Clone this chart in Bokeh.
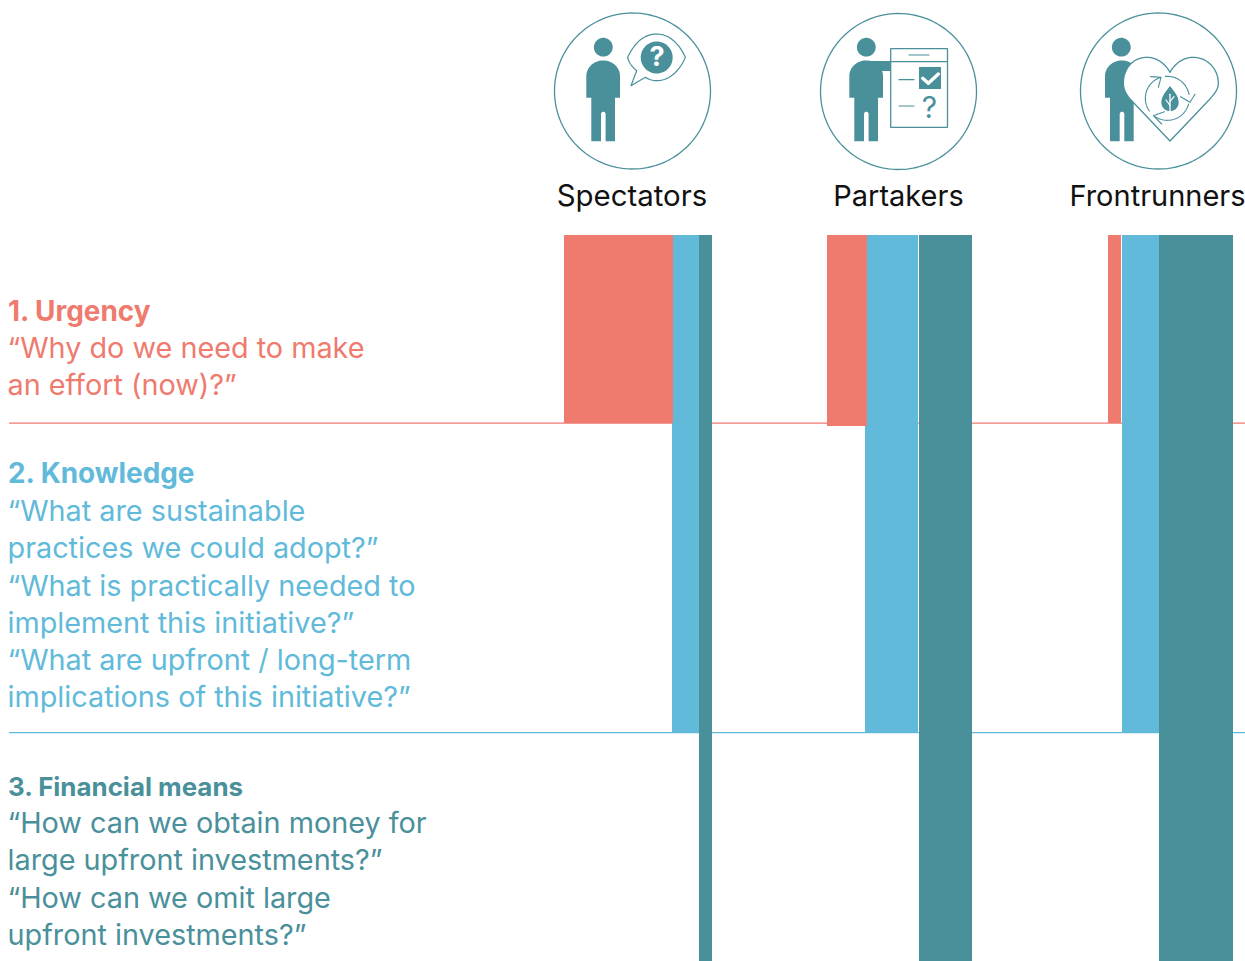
import numpy as np
from bokeh.plotting import figure
from bokeh.models import Range1d
from bokeh.core.properties import value
from bokeh.embed import file_html
from bokeh.resources import INLINE

RED = "#EF7A6E"
BLUE = "#61BAD9"
TEAL = "#4A909B"
FONT = "Inter"

groups = ["Spectators", "Partakers", "Frontrunners"]
urgency = [109, 40, 13]
knowledge = [27, 53, 37]
financial = [13, 53, 74]

group_right_of_urgency = [673, 867, 1121]
group_right_of_knowledge = [699, 918, 1159]
group_left_of_financial = [699, 919, 1159]
urgency_bottom = [423, 426, 423]

W, H = 1245, 961
OFF = 0.5
p = figure(width=W, height=H, output_backend="svg", toolbar_location=None,
           x_range=Range1d(OFF, W + OFF), y_range=Range1d(H + OFF, OFF),
           x_axis_type="linear", min_border=0, outline_line_color=None)
p.axis.visible = False
p.grid.visible = False
p.background_fill_color = "white"
p.border_fill_color = "white"

# separators
p.line([9, 1247], [423.2, 423.2], line_color=RED, line_width=1.3)
p.line([9, 1247], [732.6, 732.6], line_color=BLUE, line_width=1.2)

# bars
TOP = 235
BOTTOM = 963
kr = np.array(group_right_of_knowledge, float)
ur = np.array(group_right_of_urgency, float)
fl = np.array(group_left_of_financial, float)
p.quad(left=kr - np.array(knowledge), right=kr, top=TOP, bottom=733, fill_color=BLUE, line_color=None)
p.quad(left=ur - np.array(urgency), right=ur, top=TOP, bottom=urgency_bottom, fill_color=RED, line_color=None)
p.quad(left=fl, right=fl + np.array(financial), top=TOP, bottom=BOTTOM, fill_color=TEAL, line_color=None)

SHIFT = 0.37


# ---- text
def txt(x, y, s, color, size, style="normal", align="left", baseline="alphabetic"):
    p.text([x], [y - SHIFT * size], text=[s], text_color=color, text_font=value(FONT),
           text_font_size=f"{size}px", text_font_style=style, text_align=align,
           text_baseline=baseline)


for x, s, fs in zip([632, 898.5, 1157.5], groups, [29.4, 29, 29]):
    txt(x, 206, s, "#111111", fs, align="center")

LS = 28.8
txt(8, 321, "1. Urgency", RED, 27.9, "bold")
txt(7.5, 358.5, "“Why do we need to make", RED, LS)
txt(7.5, 395.5, "an effort (now)?”", RED, LS)

txt(8, 483, "2. Knowledge", BLUE, 27.9, "bold")
for y, s in zip([521, 558, 596, 633, 670, 707.5],
                ["“What are sustainable", "practices we could adopt?”",
                 "“What is practically needed to", "implement this initiative?”",
                 "“What are upfront / long-term", "implications of this initiative?”"]):
    txt(7.5, y, s, BLUE, LS)

txt(8, 796, "3. Financial means", TEAL, 25.9, "bold")
for y, s in zip([833, 870, 908, 945],
                ["“How can we obtain money for", "large upfront investments?”",
                 "“How can we omit large", "upfront investments?”"]):
    txt(7.5, y, s, TEAL, LS)


# ---- icon helpers
def bez(p0, p1, p2, p3, n=24):
    t = np.linspace(0, 1, n)[:, None]
    a, b, c, d = map(np.array, (p0, p1, p2, p3))
    return (1 - t) ** 3 * a + 3 * (1 - t) ** 2 * t * b + 3 * (1 - t) * t ** 2 * c + t ** 3 * d


def arc(cx, cy, r, a0, a1, n=40, ry=None):
    a = np.radians(np.linspace(a0, a1, n))
    return np.c_[cx + r * np.cos(a), cy + (ry or r) * np.sin(a)]


def person(x0, head_dx=17):
    body = np.vstack([
        [[x0, 97.8]],
        arc(x0 + 16.85, 76, 16.85, 180, 360, ry=15.5),
        [[x0 + 33.7, 97.8], [x0 + 28.7, 97.8], [x0 + 28.7, 141.3], [x0 + 19.3, 141.3], [x0 + 19.3, 114]],
        arc(x0 + 17, 114, 2.3, 0, -180, 8),
        [[x0 + 14.7, 141.3], [x0 + 5, 141.3], [x0 + 5, 97.8]],
    ])
    p.patch(body[:, 0], body[:, 1], fill_color=TEAL, line_color=None)
    c = arc(x0 + head_dx, 47.2, 9.4, 0, 360)
    p.patch(c[:, 0], c[:, 1], fill_color=TEAL, line_color=None)


def ring(cx, cy, r=78):
    c = arc(cx, cy, r, 0, 360, 160)
    p.line(c[:, 0], c[:, 1], line_color=TEAL, line_width=1.3)


def stroke(pts, w=1.2, color=TEAL):
    pts = np.asarray(pts, float)
    p.line(pts[:, 0], pts[:, 1], line_color=color, line_width=w, line_join="round", line_cap="round")


# ---- Spectators icon
ring(632.5, 91)
person(586.3)
Z = lambda x0, pts: [(x0 + x / 3, y / 3) for x, y in pts]
eye = np.vstack([
    bez(*Z(540, [(290, 212), (275, 200), (265, 185), (263, 172)]), 12),
    bez(*Z(540, [(263, 172), (285, 125), (315, 102), (350, 102)])),
    bez(*Z(540, [(350, 102), (390, 102), (420, 135), (436, 172)])),
    bez(*Z(540, [(436, 172), (420, 210), (390, 242), (350, 242)])),
    bez(*Z(540, [(350, 242), (338, 242), (326, 238), (316, 232)]), 8),
    Z(540, [(273, 257), (290, 212)]),
])
stroke(eye)
c = arc(656.7, 57.5, 16, 0, 360)
p.patch(c[:, 0], c[:, 1], fill_color=TEAL, line_color=None)
txt(657, 66, "?", "white", 27, "bold", align="center")

# ---- Partakers icon
ring(898.5, 91.5)
person(849.3)
p.quad(left=[870], right=[891], top=[61], bottom=[71], fill_color=TEAL, line_color=None)
p.quad(left=[890.7], right=[947.5], top=[48.7], bottom=[127.3], fill_color="white", line_color=TEAL, line_width=1.3)
stroke([(890.7, 61.7), (947.5, 61.7)], 1.3)
stroke([(909, 55), (929, 55)], 1.2)
stroke([(899, 79.7), (914, 79.7)], 1.2)
stroke([(899, 106), (914, 106)], 1.2)
p.quad(left=[919], right=[941], top=[67], bottom=[89], fill_color=TEAL, line_color=None)
stroke(Z(810, [(338, 235), (355, 250), (385, 222)]), 3.4, "white")
txt(929.5, 118, "?", TEAL, 30, align="center")

# ---- Frontrunners icon
ring(1158.5, 91)
person(1105, head_dx=16.3)
heart = np.vstack([
    bez(*Z(1065, [(315, 217), (300, 190), (275, 172), (245, 172)])),
    bez(*Z(1065, [(245, 172), (205, 172), (175, 205), (175, 250)])),
    bez(*Z(1065, [(175, 250), (175, 270), (185, 285), (198, 300)]), 10),
    Z(1065, [(315, 423), (432, 300)]),
    bez(*Z(1065, [(432, 300), (445, 285), (460, 270), (460, 250)]), 10),
    bez(*Z(1065, [(460, 250), (460, 205), (425, 172), (385, 172)])),
    bez(*Z(1065, [(385, 172), (355, 172), (330, 190), (315, 217)])),
])
p.patch(heart[:, 0], heart[:, 1], fill_color="white", line_color=TEAL, line_width=1.3, line_join="round")

cx, cy, r = 1065 + 307 / 3, 295 / 3, 22
stroke(arc(cx, cy, r, -95, -10), 1.1)
stroke(arc(cx, cy, r, 15, 125), 1.1)
stroke(arc(cx, cy, r, 145, 250), 1.1)
stroke(Z(1065, [(347, 290), (375, 307), (390, 283)]), 1.1)
stroke(Z(1065, [(298, 335), (265, 347), (290, 372)]), 1.1)
stroke(Z(1065, [(257, 230), (288, 232), (280, 262)]), 1.1)

drop = np.vstack([
    Z(1065, [(315, 258)]),
    bez(*Z(1065, [(315, 258), (305, 272), (289, 288), (289, 307)]), 12),
    bez(*Z(1065, [(289, 307), (289, 322), (300, 333), (315, 333)]), 12),
    bez(*Z(1065, [(315, 333), (330, 333), (341, 322), (341, 307)]), 12),
    bez(*Z(1065, [(341, 307), (341, 288), (325, 272), (315, 258)]), 12),
])
p.patch(drop[:, 0], drop[:, 1], fill_color=TEAL, line_color=None)
stroke(Z(1065, [(315, 332), (315, 283)]), 1.3, "white")
stroke(Z(1065, [(315, 316), (303, 300)]), 1.2, "white")
stroke(Z(1065, [(315, 304), (327, 290)]), 1.2, "white")

open("out.html", "w").write(file_html(p, INLINE))
